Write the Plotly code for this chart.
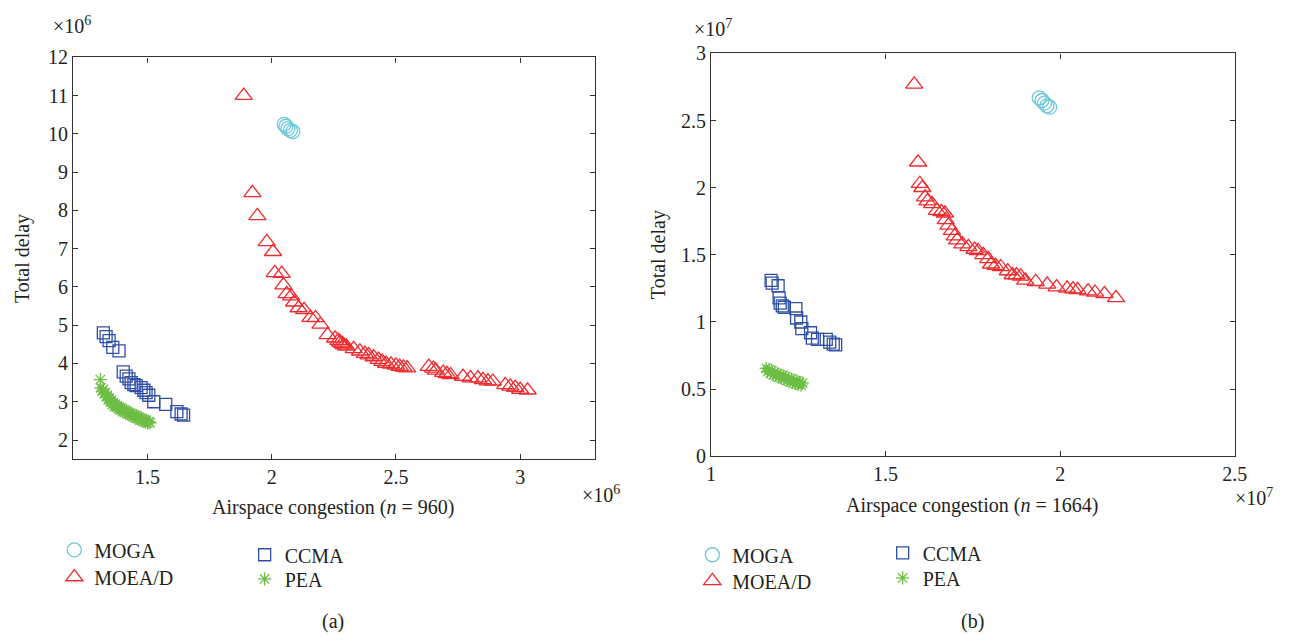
import plotly.graph_objects as go

# ---- panel (a): n = 960, values in units of 1e6 ----
moga_a_x = [2.050, 2.057, 2.065, 2.075, 2.085]
moga_a_y = [10.25, 10.20, 10.14, 10.09, 10.06]

moead_a_x = [1.887, 1.922, 1.942, 1.980, 2.005, 2.012, 2.040, 2.047, 2.060, 2.078, 2.090, 2.108,
             2.130, 2.156, 2.176, 2.196, 2.225, 2.255, 2.268, 2.275, 2.283, 2.290, 2.300, 2.330,
             2.355, 2.375, 2.390, 2.410, 2.430, 2.445, 2.460, 2.480, 2.500, 2.515, 2.530, 2.545,
             2.632, 2.650, 2.660, 2.690, 2.705, 2.720, 2.770, 2.800, 2.830, 2.850, 2.870, 2.890,
             2.940, 2.960, 2.980, 3.000, 3.030]
moead_a_y = [11.00, 8.46, 7.86, 7.18, 6.92, 6.37, 6.35, 6.05, 5.82, 5.76, 5.60, 5.45,
             5.40, 5.20, 5.19, 5.02, 4.75, 4.66, 4.60, 4.55, 4.52, 4.48, 4.45, 4.38,
             4.32, 4.26, 4.22, 4.17, 4.10, 4.05, 4.00, 3.98, 3.95, 3.92, 3.90, 3.88,
             3.92, 3.87, 3.82, 3.76, 3.73, 3.70, 3.66, 3.62, 3.62, 3.57, 3.54, 3.53,
             3.44, 3.40, 3.37, 3.32, 3.30]

ccma_a_x = [1.322, 1.333, 1.345, 1.360, 1.385, 1.402, 1.414, 1.425, 1.434, 1.445, 1.454, 1.474,
            1.485, 1.494, 1.505, 1.525, 1.573, 1.618, 1.635, 1.645]
ccma_a_y = [4.80, 4.70, 4.60, 4.42, 4.33, 3.78, 3.67, 3.60, 3.50, 3.45, 3.42, 3.37,
            3.30, 3.24, 3.17, 3.00, 2.93, 2.74, 2.68, 2.65]

pea_a_x = [1.310, 1.312, 1.318, 1.322, 1.326, 1.330, 1.334, 1.338, 1.342, 1.346, 1.350, 1.354,
           1.358, 1.362, 1.366, 1.370, 1.374, 1.378, 1.382, 1.386, 1.390, 1.395, 1.400, 1.405,
           1.410, 1.415, 1.420, 1.425, 1.430, 1.435, 1.440, 1.445, 1.450, 1.455, 1.460, 1.465,
           1.470, 1.475, 1.480, 1.485, 1.490, 1.495, 1.500, 1.505, 1.510]
pea_a_y = [3.58, 3.36, 3.28, 3.33, 3.20, 3.24, 3.12, 3.17, 3.05, 3.10, 2.99, 3.04,
           2.93, 2.98, 2.88, 2.94, 2.86, 2.90, 2.82, 2.86, 2.78, 2.83, 2.74, 2.79,
           2.72, 2.76, 2.68, 2.72, 2.65, 2.69, 2.62, 2.66, 2.58, 2.63, 2.56, 2.60,
           2.52, 2.57, 2.50, 2.54, 2.47, 2.51, 2.44, 2.48, 2.45]

# ---- panel (b): n = 1664, values in units of 1e7 ----
moga_b_x = [1.940, 1.948, 1.955, 1.962, 1.970]
moga_b_y = [2.67, 2.65, 2.63, 2.61, 2.60]

moead_b_x = [1.582, 1.593, 1.598, 1.605, 1.613, 1.620, 1.633, 1.647, 1.660, 1.670, 1.672, 1.680,
             1.690, 1.698, 1.705, 1.720, 1.737, 1.755, 1.765, 1.780, 1.794, 1.802, 1.815, 1.830,
             1.850, 1.864, 1.875, 1.887, 1.900, 1.930, 1.963, 1.990, 2.020, 2.037, 2.050, 2.080,
             2.100, 2.127, 2.160]
moead_b_y = [2.77, 2.19, 2.03, 2.00, 1.93, 1.90, 1.88, 1.83, 1.82, 1.81, 1.76, 1.72,
             1.68, 1.64, 1.61, 1.58, 1.56, 1.54, 1.53, 1.50, 1.47, 1.43, 1.42, 1.41,
             1.38, 1.35, 1.35, 1.34, 1.31, 1.30, 1.28, 1.26, 1.25, 1.245, 1.24, 1.23,
             1.22, 1.21, 1.18]

ccma_b_x = [1.172, 1.175, 1.192, 1.195, 1.198, 1.204, 1.210, 1.243, 1.245, 1.257, 1.260, 1.285,
            1.290, 1.305, 1.330, 1.340, 1.350, 1.357]
ccma_b_y = [1.31, 1.29, 1.27, 1.18, 1.14, 1.12, 1.11, 1.10, 1.03, 1.00, 0.95, 0.92,
            0.88, 0.87, 0.87, 0.85, 0.835, 0.83]

pea_b_x = [1.158, 1.162, 1.166, 1.170, 1.174, 1.178, 1.182, 1.186, 1.190, 1.194, 1.198, 1.202,
           1.206, 1.210, 1.214, 1.218, 1.222, 1.226, 1.230, 1.234, 1.238, 1.242, 1.246, 1.250,
           1.254, 1.258, 1.262]
pea_b_y = [0.655, 0.630, 0.645, 0.620, 0.640, 0.605, 0.625, 0.600, 0.615, 0.590, 0.605, 0.580,
           0.600, 0.575, 0.590, 0.565, 0.580, 0.555, 0.575, 0.550, 0.565, 0.540, 0.560, 0.535,
           0.550, 0.530, 0.545]

W, H = 1297, 644
FONT = "Liberation Serif"
TXT = "#231f20"
C_MOGA = "#6cc7d8"
C_MOEAD = "#ee2b2f"
C_CCMA = "#2f4fa6"
C_PEA = "#6dbd45"


def px(v):
    return v / W


def py(v):
    return 1 - v / H


def series(x, y, name, symbol, size, color, xa, ya, legend):
    return go.Scatter(
        x=x, y=y, name=name, mode="markers", xaxis=xa, yaxis=ya, legend=legend,
        marker=dict(symbol=symbol, size=size, color=color,
                    line=dict(color=color, width=1.3)),
    )


fig = go.Figure()
# panel (a)
fig.add_trace(series(moga_a_x, moga_a_y, "MOGA", "circle-open", 14, C_MOGA, "x", "y", "legend2"))
fig.add_trace(series(moead_a_x, moead_a_y, "MOEA/D", "triangle-up-open", 15, C_MOEAD, "x", "y", "legend3"))
fig.add_trace(series(ccma_a_x, ccma_a_y, "CCMA", "square-open", 12, C_CCMA, "x", "y", "legend4"))
fig.add_trace(series(pea_a_x, pea_a_y, "PEA", "asterisk-open", 11, C_PEA, "x", "y", "legend5"))
# panel (b)
fig.add_trace(series(moga_b_x, moga_b_y, "MOGA", "circle-open", 14, C_MOGA, "x2", "y2", "legend6"))
fig.add_trace(series(moead_b_x, moead_b_y, "MOEA/D", "triangle-up-open", 15, C_MOEAD, "x2", "y2", "legend7"))
fig.add_trace(series(ccma_b_x, ccma_b_y, "CCMA", "square-open", 12, C_CCMA, "x2", "y2", "legend8"))
fig.add_trace(series(pea_b_x, pea_b_y, "PEA", "asterisk-open", 11, C_PEA, "x2", "y2", "legend9"))

axis_style = dict(showline=True, mirror="ticks", linecolor="#333333", linewidth=1.3,
                  ticks="inside", ticklen=5, tickcolor="#333333", tickwidth=1.2,
                  showgrid=False, zeroline=False,
                  tickfont=dict(family=FONT, size=20, color=TXT))

fig.update_layout(
    width=W, height=H, margin=dict(l=0, r=0, t=0, b=0),
    paper_bgcolor="white", plot_bgcolor="white",
    font=dict(family=FONT, size=20, color=TXT),
    xaxis=dict(domain=[px(69), px(598)], range=[1.2, 3.3], tickvals=[1.5, 2, 2.5, 3], anchor="y", **axis_style),
    yaxis=dict(domain=[py(464), py(48)], range=[1.5, 12], dtick=1, anchor="x", **axis_style),
    xaxis2=dict(domain=[px(716), px(1247)], range=[1, 2.5], dtick=0.5, anchor="y2", **axis_style),
    yaxis2=dict(domain=[py(461), py(44)], range=[0, 3], dtick=0.5, anchor="x2", **axis_style),
)

# one legend box per entry so each row sits where the reference puts it
leg = dict(bgcolor="rgba(0,0,0,0)", borderwidth=0, xanchor="left", yanchor="middle",
           orientation="v", font=dict(family=FONT, size=20, color=TXT), itemclick=False)
legend_pos = {
    "legend2": (50, 558), "legend3": (50, 586), "legend4": (243, 563), "legend5": (243, 588),
    "legend6": (697, 563), "legend7": (697, 590), "legend8": (890, 561), "legend9": (890, 587),
}
fig.update_layout(**{k: dict(x=px(x), y=py(y), **leg) for k, (x, y) in legend_pos.items()})

notes = [
    ("Total delay", 18, 256, -90),
    ("Total delay", 663, 252, -90),
    ("Airspace congestion (<i>n</i> = 960)", 333, 514, 0),
    ("Airspace congestion (<i>n</i> = 1664)", 981, 512, 0),
    ("(a)", 333, 632, 0),
    ("(b)", 981, 632, 0),
]
for text, x, y, ang in notes:
    fig.add_annotation(text=text, x=px(x), y=py(y), xref="paper", yref="paper",
                       showarrow=False, textangle=ang, xanchor="center", yanchor="middle",
                       font=dict(family=FONT, size=20, color=TXT))

exps = [
    ("×10<sup>6</sup>", 47, 14),
    ("×10<sup>6</sup>", 583, 500),
    ("×10<sup>7</sup>", 697, 18),
    ("×10<sup>7</sup>", 1245, 503),
]
for text, x, y in exps:
    fig.add_annotation(text=text, x=px(x), y=py(y), xref="paper", yref="paper",
                       showarrow=False, xanchor="left", yanchor="middle",
                       font=dict(family=FONT, size=20, color=TXT))

fig.write_html("out.html", config={"displayModeBar": False},
               post_script="document.body.style.margin='0';")
